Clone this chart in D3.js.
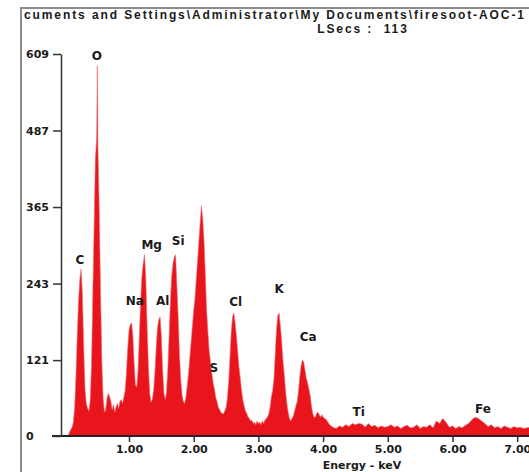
<!DOCTYPE html>
<html lang="en">
  <head>
    <meta charset="utf-8">
    <title>firesoot EDS spectrum</title>
    <script type="text/javascript" src="https://d3js.org/d3.v7.min.js"></script>
    <style type="text/css">
    body {
      margin: 0;
      background: #fff;
    }
    .head {
      font-family: "Liberation Sans", Arial, sans-serif;
      font-size: 12px;
      font-weight: bold;
      letter-spacing: 1.9px;
      fill: #1a1a1a;
    }
    .axisl text,
    .axisb text,
    .xlabel {
      font-family: "DejaVu Sans", sans-serif;
      font-size: 11px;
      font-weight: bold;
      fill: #1a1a1a;
    }
    .axisl line,
    .axisb line,
    .axisl path {
      stroke: #333;
      stroke-width: 1.5px;
    }
    .peak {
      font-family: "DejaVu Sans", sans-serif;
      font-size: 12px;
      font-weight: bold;
      fill: #1a1a1a;
    }
    </style>
  </head>
  <body>
    <svg width="529" height="472" id="svg1"></svg>

    <script type="text/javascript">

    const width = 529;
    const height = 472;

    const titleText = "cuments and Settings\\Administrator\\My Documents\\firesoot-AOC-1";
    const lsecsText = "LSecs :  113";

    // counts per energy channel [keV, counts]
    const spectrum = [
      [0.00,0],[0.02,0],[0.04,0],[0.06,0],[0.08,6],[0.10,10],[0.12,14],[0.14,22],[0.16,45],[0.18,95],
      [0.20,160],[0.22,215],[0.24,250],[0.26,266],[0.28,225],[0.30,140],[0.32,75],[0.34,52],[0.36,44],[0.38,40],
      [0.40,55],[0.42,110],[0.44,220],[0.46,330],[0.48,440],[0.50,475],[0.51,590],[0.52,460],[0.54,360],[0.56,230],
      [0.58,120],[0.60,60],[0.62,38],[0.64,42],[0.66,60],[0.68,68],[0.70,62],[0.72,55],[0.74,42],[0.76,50],
      [0.78,38],[0.80,46],[0.82,52],[0.84,44],[0.86,55],[0.88,58],[0.90,52],[0.92,62],[0.94,72],[0.96,100],
      [0.98,140],[1.00,168],[1.02,178],[1.04,180],[1.06,160],[1.08,115],[1.10,80],[1.12,78],[1.14,105],[1.16,160],
      [1.18,215],[1.20,255],[1.22,275],[1.24,289],[1.26,250],[1.28,175],[1.30,110],[1.32,68],[1.34,54],[1.36,58],
      [1.38,72],[1.40,100],[1.42,140],[1.44,172],[1.46,185],[1.48,190],[1.50,160],[1.52,105],[1.54,68],[1.56,58],
      [1.58,70],[1.60,105],[1.62,160],[1.64,215],[1.66,255],[1.68,275],[1.70,285],[1.72,289],[1.74,240],[1.76,190],
      [1.78,130],[1.80,90],[1.82,65],[1.84,55],[1.86,52],[1.88,62],[1.90,80],[1.92,100],[1.94,125],[1.96,150],
      [1.98,175],[2.00,200],[2.02,220],[2.04,250],[2.06,280],[2.08,310],[2.10,340],[2.12,367],[2.14,345],[2.16,310],
      [2.18,255],[2.20,200],[2.22,165],[2.24,135],[2.26,118],[2.28,100],[2.30,85],[2.32,75],[2.34,62],[2.36,55],
      [2.38,46],[2.40,42],[2.42,38],[2.44,36],[2.46,35],[2.48,40],[2.50,45],[2.52,60],[2.54,85],[2.56,125],
      [2.58,165],[2.60,190],[2.62,196],[2.64,180],[2.66,160],[2.68,135],[2.70,110],[2.72,92],[2.74,72],[2.76,57],
      [2.78,48],[2.80,40],[2.82,36],[2.84,30],[2.86,28],[2.88,24],[2.90,25],[2.92,20],[2.94,22],[2.96,18],
      [2.98,24],[3.00,20],[3.02,22],[3.04,18],[3.06,24],[3.08,20],[3.10,25],[3.12,28],[3.14,30],[3.16,35],
      [3.18,45],[3.20,62],[3.22,72],[3.24,90],[3.26,130],[3.28,170],[3.30,192],[3.32,196],[3.34,175],[3.36,150],
      [3.38,120],[3.40,98],[3.42,72],[3.44,52],[3.46,38],[3.48,28],[3.50,24],[3.52,28],[3.54,32],[3.56,40],
      [3.58,48],[3.60,55],[3.62,72],[3.64,95],[3.66,112],[3.68,121],[3.70,118],[3.72,105],[3.74,92],[3.76,85],
      [3.78,75],[3.80,65],[3.82,48],[3.84,36],[3.86,30],[3.88,30],[3.90,36],[3.92,38],[3.94,34],[3.96,30],
      [3.98,34],[4.00,30],[4.05,26],[4.10,18],[4.15,14],[4.20,12],[4.25,16],[4.30,14],[4.35,18],[4.40,15],
      [4.45,20],[4.50,18],[4.55,20],[4.60,19],[4.65,14],[4.70,20],[4.75,15],[4.80,17],[4.85,13],[4.90,16],
      [4.95,14],[5.00,15],[5.05,18],[5.10,14],[5.15,16],[5.20,12],[5.25,15],[5.30,17],[5.35,13],[5.40,14],
      [5.45,18],[5.50,12],[5.55,15],[5.60,14],[5.65,18],[5.70,13],[5.75,24],[5.80,20],[5.85,28],[5.90,22],
      [5.95,14],[6.00,16],[6.05,12],[6.10,15],[6.15,13],[6.20,17],[6.25,20],[6.30,26],[6.35,30],[6.40,28],
      [6.45,24],[6.50,20],[6.55,15],[6.60,18],[6.65,13],[6.70,15],[6.75,12],[6.80,16],[6.85,14],[6.90,12],
      [6.95,15],[7.00,13],[7.05,14],[7.10,12],[7.15,13],[7.20,14]
    ];

    // element labels: name, keV position, count level of the label
    const peakNames  = ["C", "O", "Na", "Mg", "Al", "Si", "S", "Cl", "K", "Ca", "Ti", "Fe"];
    const peakKeV    = [0.24, 0.505, 1.09, 1.35, 1.52, 1.76, 2.31, 2.65, 3.32, 3.77, 4.55, 6.47];
    const peakLevel  = [281, 606, 216, 305, 216, 311, 108, 214, 234, 158, 38, 43];

    const yTicks = [0, 121, 243, 365, 487, 609];
    const xTicks = [1, 2, 3, 4, 5, 6, 7];

    const xScale = d3.scaleLinear()
        .domain([0, 7])
        .range([64.3, 517.2]);

    const yScale = d3.scaleLinear()
        .domain([0, 609])
        .range([436, 54]);

    const svg1 = d3.select("#svg1");

    // grey window frame
    svg1.append("path")
        .attr("d", "M21," + height + " V8 H" + width)
        .attr("fill", "none")
        .attr("stroke", "#8c8c8c")
        .attr("stroke-width", 2);

    svg1.append("text")
        .attr("class", "head")
        .attr("x", 24)
        .attr("y", 19)
        .text(titleText);

    svg1.append("text")
        .attr("class", "head")
        .attr("text-anchor", "middle")
        .attr("x", 363)
        .attr("y", 33)
        .attr("xml:space", "preserve")
        .style("white-space", "pre")
        .text(lsecsText);

    const area = d3.area()
        .x(d => xScale(d[0]))
        .y0(yScale(0))
        .y1(d => yScale(d[1]));

    svg1.append("path")
        .datum(spectrum)
        .attr("d", area)
        .attr("fill", "#e8151c")
        .attr("stroke", "#f06a6e")
        .attr("stroke-width", 0.6);

    // baseline, reaches left past the y axis like the 0 tick
    svg1.append("line")
        .attr("x1", 52)
        .attr("x2", width)
        .attr("y1", yScale(0))
        .attr("y2", yScale(0))
        .attr("stroke", "#222")
        .attr("stroke-width", 2);

    const leftAxis = d3.axisLeft(yScale)
        .tickValues(yTicks)
        .tickSize(8)
        .tickSizeOuter(0);

    svg1.append("g")
        .attr("class", "axisl")
        .attr("transform", "translate(61,0)")
        .call(leftAxis)
        .selectAll("text")
          .attr("x", -35)
          .style("text-anchor", "start");

    const bottomAxis = d3.axisBottom(xScale)
        .tickValues(xTicks)
        .tickSize(6)
        .tickFormat(d3.format(".2f"));

    const gx = svg1.append("g")
        .attr("class", "axisb")
        .attr("transform", "translate(0," + yScale(0) + ")")
        .call(bottomAxis);
    gx.select(".domain").remove();
    gx.selectAll("text").attr("dy", "0.75em").attr("y", 9);

    svg1.append("text")
        .attr("class", "xlabel")
        .attr("text-anchor", "middle")
        .attr("x", 362)
        .attr("y", 469)
        .text("Energy - keV");

    svg1.selectAll(".peak")
        .data(peakNames)
        .enter()
        .append("text")
        .attr("class", "peak")
        .attr("text-anchor", "middle")
        .attr("dominant-baseline", "central")
        .attr("x", (d, i) => xScale(peakKeV[i]))
        .attr("y", (d, i) => yScale(peakLevel[i]))
        .text(d => d);

    </script>
  </body>
</html>
